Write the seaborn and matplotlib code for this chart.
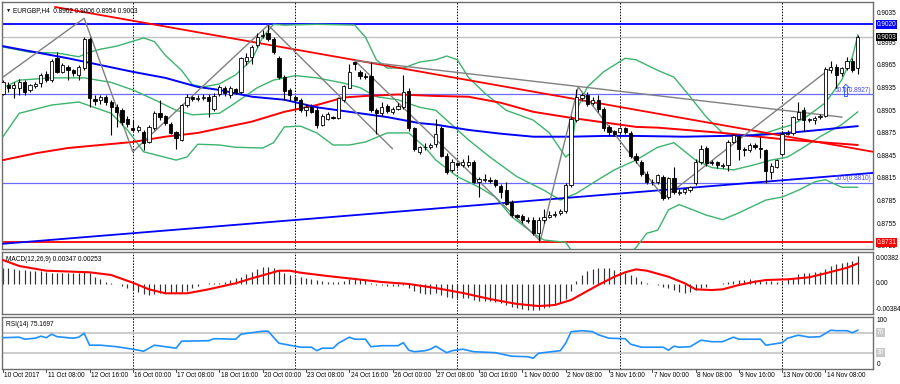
import numpy as np
import pandas as pd
import matplotlib
matplotlib.use("Agg")
import matplotlib.pyplot as plt
import seaborn as sns

# ---- candles EURGBP H4 ----
opens = [0.8928, 0.8940, 0.8936, 0.8936, 0.8944, 0.8933, 0.8938, 0.8942, 0.8954, 0.8946,
         0.8975, 0.8957, 0.8964, 0.8959, 0.8953, 0.8962, 0.9001, 0.8921, 0.8919, 0.8924,
         0.8917, 0.8911, 0.8906, 0.8895, 0.8882, 0.8880, 0.8877, 0.8864, 0.8883, 0.8902,
         0.8898, 0.8888, 0.8877, 0.8867, 0.8913, 0.8923, 0.8921, 0.8922, 0.8924, 0.8908,
         0.8928, 0.8935, 0.8926, 0.8934, 0.8930, 0.8972, 0.8977, 0.8992, 0.9004, 0.9008,
         0.9001, 0.8975, 0.8950, 0.8933, 0.8924, 0.8919, 0.8906, 0.8911, 0.8906, 0.8887,
         0.8895, 0.8897, 0.8896, 0.8920, 0.8936, 0.8970, 0.8957, 0.8952, 0.8951, 0.8906,
         0.8902, 0.8912, 0.8904, 0.8908, 0.8911, 0.8932, 0.8882, 0.8851, 0.8857, 0.8858,
         0.8861, 0.8882, 0.8846, 0.8827, 0.8836, 0.8834, 0.8833, 0.8838, 0.8811, 0.8814,
         0.8813, 0.8813, 0.8806, 0.8800, 0.8784, 0.8767, 0.8766, 0.8760, 0.8760, 0.8743,
         0.8760, 0.8765, 0.8767, 0.8770, 0.8773, 0.8807, 0.8893, 0.8922, 0.8926, 0.8916,
         0.8920, 0.8908, 0.8884, 0.8878, 0.8877, 0.8882, 0.8876, 0.8846, 0.8838, 0.8822,
         0.8811, 0.8811, 0.8818, 0.8791, 0.8816, 0.8797, 0.8798, 0.8800, 0.8809, 0.8838,
         0.8856, 0.8837, 0.8837, 0.8832, 0.8833, 0.8864, 0.8872, 0.8855, 0.8853, 0.8860,
         0.8856, 0.8853, 0.8824, 0.8831, 0.8848, 0.8875, 0.8876, 0.8895, 0.8906, 0.8893,
         0.8893, 0.8897, 0.8899, 0.8960, 0.8964, 0.8955, 0.8962, 0.8972, 0.8962]
highs = [0.8946, 0.8943, 0.8944, 0.8947, 0.8946, 0.8941, 0.8944, 0.8956, 0.8958, 0.8974,
         0.8983, 0.8969, 0.8966, 0.8961, 0.8966, 0.9003, 0.9003, 0.8926, 0.8926, 0.8926,
         0.8920, 0.8915, 0.8909, 0.8899, 0.8893, 0.8887, 0.8880, 0.8886, 0.8905, 0.8919,
         0.8900, 0.8890, 0.8879, 0.8915, 0.8927, 0.8925, 0.8926, 0.8928, 0.8927, 0.8929,
         0.8940, 0.8938, 0.8938, 0.8936, 0.8977, 0.8982, 0.8993, 0.9008, 0.9012, 0.9019,
         0.9003, 0.8978, 0.8953, 0.8935, 0.8926, 0.8922, 0.8914, 0.8914, 0.8912, 0.8901,
         0.8904, 0.8899, 0.8924, 0.8940, 0.8968, 0.8970, 0.8960, 0.8955, 0.8970, 0.8909,
         0.8917, 0.8915, 0.8911, 0.8916, 0.8953, 0.8935, 0.8884, 0.8859, 0.8862, 0.8863,
         0.8895, 0.8885, 0.8850, 0.8842, 0.8838, 0.8841, 0.8847, 0.8840, 0.8818, 0.8822,
         0.8817, 0.8815, 0.8808, 0.8811, 0.8787, 0.8769, 0.8768, 0.8764, 0.8764, 0.8764,
         0.8775, 0.8773, 0.8772, 0.8775, 0.8810, 0.8898, 0.8934, 0.8929, 0.8930, 0.8923,
         0.8926, 0.8910, 0.8887, 0.8880, 0.8884, 0.8884, 0.8878, 0.8849, 0.8840, 0.8825,
         0.8815, 0.8822, 0.8820, 0.8818, 0.8831, 0.8801, 0.8803, 0.8806, 0.8842, 0.8860,
         0.8859, 0.8840, 0.8839, 0.8836, 0.8866, 0.8875, 0.8875, 0.8858, 0.8863, 0.8863,
         0.8871, 0.8855, 0.8836, 0.8842, 0.8878, 0.8880, 0.8899, 0.8917, 0.8910, 0.8896,
         0.8898, 0.8901, 0.8963, 0.8971, 0.8967, 0.8964, 0.8977, 0.8975, 0.9006]
lows = [0.8926, 0.8930, 0.8922, 0.8926, 0.8926, 0.8930, 0.8936, 0.8937, 0.8944, 0.8944,
        0.8955, 0.8955, 0.8946, 0.8952, 0.8946, 0.8960, 0.8911, 0.8913, 0.8915, 0.8913,
        0.8873, 0.8884, 0.8887, 0.8884, 0.8878, 0.8877, 0.8853, 0.8862, 0.8880, 0.8893,
        0.8886, 0.8874, 0.8855, 0.8865, 0.8910, 0.8918, 0.8918, 0.8920, 0.8897, 0.8905,
        0.8925, 0.8925, 0.8922, 0.8928, 0.8928, 0.8966, 0.8967, 0.8990, 0.9002, 0.8998,
        0.8980, 0.8948, 0.8920, 0.8918, 0.8906, 0.8904, 0.8899, 0.8902, 0.8883, 0.8885,
        0.8893, 0.8894, 0.8894, 0.8917, 0.8935, 0.8960, 0.8948, 0.8948, 0.8904, 0.8875,
        0.8899, 0.8902, 0.8901, 0.8906, 0.8908, 0.8878, 0.8852, 0.8848, 0.8854, 0.8855,
        0.8858, 0.8844, 0.8821, 0.8824, 0.8830, 0.8831, 0.8831, 0.8809, 0.8791, 0.8811,
        0.8809, 0.8804, 0.8790, 0.8780, 0.8764, 0.8763, 0.8757, 0.8756, 0.8740, 0.8731,
        0.8757, 0.8763, 0.8765, 0.8767, 0.8770, 0.8804, 0.8890, 0.8918, 0.8912, 0.8913,
        0.8904, 0.8878, 0.8873, 0.8872, 0.8875, 0.8875, 0.8843, 0.8836, 0.8819, 0.8808,
        0.8807, 0.8808, 0.8787, 0.8788, 0.8795, 0.8794, 0.8795, 0.8798, 0.8807, 0.8835,
        0.8832, 0.8833, 0.8829, 0.8829, 0.8825, 0.8862, 0.8840, 0.8846, 0.8851, 0.8855,
        0.8843, 0.8810, 0.8815, 0.8829, 0.8846, 0.8873, 0.8873, 0.8893, 0.8878, 0.8891,
        0.8888, 0.8895, 0.8897, 0.8956, 0.8936, 0.8952, 0.8960, 0.8957, 0.8954]
closes = [0.8944, 0.8936, 0.8939, 0.8944, 0.8930, 0.8939, 0.8941, 0.8953, 0.8946, 0.8972,
          0.8957, 0.8966, 0.8960, 0.8955, 0.8964, 0.9001, 0.8922, 0.8918, 0.8923, 0.8917,
          0.8911, 0.8904, 0.8891, 0.8888, 0.8880, 0.8884, 0.8863, 0.8884, 0.8903, 0.8897,
          0.8889, 0.8876, 0.8869, 0.8913, 0.8924, 0.8921, 0.8922, 0.8924, 0.8918, 0.8925,
          0.8937, 0.8929, 0.8935, 0.8930, 0.8975, 0.8977, 0.8990, 0.9003, 0.9006, 0.9000,
          0.8983, 0.8950, 0.8931, 0.8926, 0.8919, 0.8906, 0.8910, 0.8904, 0.8886, 0.8899,
          0.8901, 0.8896, 0.8922, 0.8938, 0.8957, 0.8968, 0.8951, 0.8950, 0.8906, 0.8902,
          0.8911, 0.8905, 0.8908, 0.8912, 0.8930, 0.8882, 0.8855, 0.8857, 0.8858, 0.8860,
          0.8875, 0.8846, 0.8824, 0.8838, 0.8834, 0.8838, 0.8838, 0.8811, 0.8815, 0.8814,
          0.8812, 0.8807, 0.8798, 0.8782, 0.8767, 0.8765, 0.8760, 0.8759, 0.8743, 0.8760,
          0.8765, 0.8767, 0.8769, 0.8773, 0.8807, 0.8895, 0.8924, 0.8926, 0.8915, 0.8920,
          0.8908, 0.8882, 0.8877, 0.8875, 0.8882, 0.8877, 0.8846, 0.8840, 0.8822, 0.8811,
          0.8811, 0.8820, 0.8790, 0.8816, 0.8798, 0.8798, 0.8801, 0.8804, 0.8838, 0.8855,
          0.8836, 0.8836, 0.8833, 0.8834, 0.8864, 0.8873, 0.8855, 0.8854, 0.8860, 0.8858,
          0.8855, 0.8825, 0.8832, 0.8840, 0.8875, 0.8876, 0.8897, 0.8904, 0.8893, 0.8894,
          0.8896, 0.8899, 0.8961, 0.8964, 0.8953, 0.8962, 0.8972, 0.8960, 0.9003]

date_labels = ["10 Oct 2017", "11 Oct 08:00", "12 Oct 16:00", "16 Oct 00:00", "17 Oct 08:00",
               "18 Oct 16:00", "20 Oct 00:00", "23 Oct 08:00", "24 Oct 16:00", "26 Oct 00:00",
               "27 Oct 08:00", "30 Oct 16:00", "1 Nov 00:00", "2 Nov 08:00", "3 Nov 16:00",
               "7 Nov 00:00", "8 Nov 08:00", "9 Nov 16:00", "13 Nov 00:00", "14 Nov 08:00"]
week_starts = [24, 54, 84, 114, 144]

# ---- bandas de Bollinger (vertices) ----
bb_upper_bar = [0, 5, 10, 14, 16, 18, 21, 26, 28, 30, 33, 35, 37, 40, 43, 46, 48, 50, 52, 58,
                65, 67, 69, 71, 74, 77, 80, 82, 84, 86, 89, 93, 98, 101, 104, 105, 106, 108, 111, 115,
                117, 121, 124, 127, 130, 133, 136, 141, 144, 146, 149, 152, 155, 157, 158]
bb_upper = [0.8990, 0.8983, 0.8982, 0.8977, 0.8983, 0.8987, 0.8991, 0.9002, 0.8997, 0.8979,
            0.8959, 0.8940, 0.8937, 0.8941, 0.8953, 0.8973, 0.9003, 0.9020, 0.9019, 0.9020,
            0.9019, 0.9003, 0.8973, 0.8962, 0.8962, 0.8970, 0.8973, 0.8978, 0.8973, 0.8950,
            0.8929, 0.8906, 0.8893, 0.8876, 0.8844, 0.8850, 0.8906, 0.8937, 0.8957, 0.8975,
            0.8973, 0.8959, 0.8950, 0.8924, 0.8897, 0.8876, 0.8871, 0.8876, 0.8883, 0.8887,
            0.8900, 0.8916, 0.8946, 0.8977, 0.9006]
bb_mid_bar = [0, 3, 9, 15, 20, 24, 28, 32, 35, 40, 43, 47, 50, 54, 58, 63, 66, 69, 73, 77,
              80, 82, 86, 90, 95, 100, 103, 106, 110, 113, 117, 121, 124, 128, 131, 135, 139, 142, 145, 148,
              151, 155, 158]
bb_mid = [0.8936, 0.8946, 0.8949, 0.8949, 0.8943, 0.8933, 0.8920, 0.8906, 0.8900, 0.8902,
          0.8916, 0.8936, 0.8946, 0.8952, 0.8949, 0.8942, 0.8936, 0.8924, 0.8920, 0.8910,
          0.8906, 0.8893, 0.8867, 0.8844, 0.8818, 0.8800, 0.8787, 0.8796, 0.8814, 0.8827,
          0.8840, 0.8857, 0.8863, 0.8840, 0.8830, 0.8827, 0.8834, 0.8840, 0.8844, 0.8857,
          0.8871, 0.8887, 0.8904]
bb_low_bar = [0, 3, 9, 14, 20, 23, 26, 32, 34, 36, 40, 43, 48, 50, 52, 55, 58, 61, 64, 67,
              71, 75, 78, 80, 84, 88, 91, 94, 98, 100, 104, 107, 110, 113, 117, 119, 121, 123, 125, 130,
              133, 136, 141, 144, 147, 150, 152, 155, 158]
bb_low = [0.8871, 0.8902, 0.8913, 0.8917, 0.8902, 0.8880, 0.8851, 0.8840, 0.8844, 0.8861,
          0.8860, 0.8857, 0.8856, 0.8863, 0.8884, 0.8885, 0.8876, 0.8860, 0.8860, 0.8864,
          0.8876, 0.8876, 0.8857, 0.8840, 0.8818, 0.8804, 0.8791, 0.8765, 0.8743, 0.8734,
          0.8731, 0.8700, 0.8690, 0.8700, 0.8724, 0.8743, 0.8747, 0.8774, 0.8781, 0.8767,
          0.8761, 0.8770, 0.8787, 0.8791, 0.8800, 0.8811, 0.8814, 0.8804, 0.8804]

# ---- medias moveis ----
red_ma_bar = [0, 6, 12, 18, 24, 30, 36, 46, 52, 58, 63, 67, 73, 80, 86, 92, 98, 105, 111, 117,
              121, 133, 145, 158]
red_ma = [0.8840, 0.8849, 0.8856, 0.8860, 0.8864, 0.8871, 0.8876, 0.8891, 0.8904, 0.8913,
          0.8923, 0.8925, 0.8927, 0.8925, 0.8924, 0.8916, 0.8904, 0.8896, 0.8890, 0.8884,
          0.8883, 0.8876, 0.8867, 0.8860]
blue_ma_bar = [0, 6, 12, 18, 24, 30, 36, 40, 46, 52, 58, 64, 71, 77, 80, 86, 92, 98, 105, 111,
               117, 126, 133, 139, 145, 151, 155, 158]
blue_ma = [0.8991, 0.8983, 0.8975, 0.8966, 0.8957, 0.8949, 0.8937, 0.8933, 0.8924, 0.8920,
           0.8910, 0.8904, 0.8897, 0.8889, 0.8887, 0.8880, 0.8875, 0.8871, 0.8871, 0.8872,
           0.8872, 0.8871, 0.8872, 0.8873, 0.8876, 0.8880, 0.8883, 0.8885]

# ---- objetos desenhados ----
trend_red_bar = [9.6, 160.8]
trend_red = [0.9043, 0.8851]
trend_blue_bar = [0, 160.8]
trend_blue = [0.8729, 0.8823]
zigzag1_bar = [0, 15, 24, 49, 72]
zigzag1 = [0.8950, 0.9028, 0.8851, 0.9019, 0.8855]
zigzag2_bar = [65, 99.3, 106.3, 122.2, 153]
zigzag2 = [0.8972, 0.8733, 0.8937, 0.8790, 0.8962]
channel_bar = [65, 155.1]
channel = [0.8972, 0.8897]
level_top = 0.9020
level_bid = 0.9003
fib_hi = 0.8927
fib_lo = 0.8810
level_low = 0.8731
price_ticks = [0.9035, 0.8995, 0.8965, 0.8935, 0.8905, 0.8875, 0.8845, 0.8815, 0.8785, 0.8755, 0.8725]

# ---- MACD ----
macd_hist = [0.00191, 0.00191, 0.00178, 0.00170, 0.00170, 0.00161, 0.00157, 0.00157, 0.00149, 0.00136,
             0.00136, 0.00136, 0.00136, 0.00136, 0.00136, 0.00149, 0.00128, 0.00086, 0.00052, 0.00023,
             0.00002, -0.00010, -0.00031, -0.00061, -0.00082, -0.00103, -0.00132, -0.00145, -0.00136, -0.00124,
             -0.00115, -0.00115, -0.00115, -0.00107, -0.00090, -0.00061, -0.00031, -0.00010, 0.00002, 0.00010,
             0.00010, 0.00023, 0.00044, 0.00065, 0.00086, 0.00115, 0.00149, 0.00178, 0.00212, 0.00212,
             0.00191, 0.00170, 0.00136, 0.00107, 0.00086, 0.00080, 0.00070, 0.00060, 0.00040, 0.00030,
             0.00025, 0.00015, 0.00020, 0.00035, 0.00055, 0.00065, 0.00060, 0.00050, 0.00010, -0.00015,
             -0.00020, -0.00030, -0.00035, -0.00035, -0.00020, -0.00060, -0.00100, -0.00120, -0.00130, -0.00135,
             -0.00125, -0.00140, -0.00170, -0.00180, -0.00185, -0.00185, -0.00185, -0.00205, -0.00215, -0.00220,
             -0.00225, -0.00232, -0.00245, -0.00265, -0.00290, -0.00305, -0.00320, -0.00330, -0.00335, -0.00330,
             -0.00310, -0.00290, -0.00270, -0.00250, -0.00200, -0.00090, 0.00030, 0.00110, 0.00160, 0.00185,
             0.00195, 0.00191, 0.00191, 0.00170, 0.00136, 0.00128, 0.00107, 0.00086, 0.00036, 0.00002,
             -0.00002, -0.00019, -0.00040, -0.00061, -0.00082, -0.00103, -0.00115, -0.00103, -0.00082, -0.00061,
             -0.00040, -0.00010, -0.00002, 0.00010, 0.00023, 0.00031, 0.00044, 0.00044, 0.00052, 0.00044,
             0.00044, 0.00036, 0.00036, 0.00023, 0.00023, 0.00052, 0.00065, 0.00119, 0.00128, 0.00136,
             0.00140, 0.00140, 0.00178, 0.00220, 0.00241, 0.00262, 0.00274, 0.00287, 0.00347]
signal_bar = [0, 3, 8, 16, 20, 24, 27, 30, 34, 38, 43, 46, 51, 53, 55, 60, 65, 70, 75, 80,
              85, 90, 95, 99, 102, 105, 108, 110, 113, 115, 117, 119, 123, 126, 128, 131, 133, 136, 139, 141,
              145, 149, 152, 156, 158]
signal = [0.00295, 0.00220, 0.00161, 0.00141, 0.00107, 0.00010, -0.00073, -0.00123, -0.00123, -0.00073,
          0.00003, 0.00065, 0.00161, 0.00161, 0.00136, 0.00094, 0.00057, 0.00019, -0.00006, -0.00057,
          -0.00119, -0.00195, -0.00257, -0.00283, -0.00270, -0.00207, -0.00094, -0.00019, 0.00085, 0.00141,
          0.00178, 0.00161, 0.00085, 0.00003, -0.00073, -0.00082, -0.00073, -0.00019, 0.00023, 0.00044,
          0.00053, 0.00078, 0.00128, 0.00198, 0.00253]

# ---- RSI(14) ----
rsi_bar = [0, 3, 4, 6, 7, 8, 9, 10, 13, 14, 15, 16, 18, 21, 24, 26, 28, 32, 33, 38,
           39, 43, 44, 48, 49, 51, 55, 57, 58, 59, 61, 62, 64, 65, 67, 68, 70, 73, 74, 75,
           76, 78, 79, 80, 82, 83, 85, 87, 91, 94, 97, 98, 99, 103, 104, 105, 107, 109, 110, 112,
           115, 116, 118, 122, 123, 124, 125, 127, 129, 131, 133, 135, 136, 140, 141, 144, 145, 147, 149, 151,
           153, 154, 156, 157, 158]
rsi = [60, 61, 57, 59, 63, 60, 67, 62, 59, 61, 69, 45, 45, 42, 37, 33, 45, 39, 53, 54,
       58, 57, 67, 73, 73, 49, 41, 41, 34, 39, 39, 49, 61, 57, 57, 42, 44, 44, 50, 35,
       32, 34, 37, 43, 30, 34, 37, 32, 30, 23, 22, 19, 29, 34, 49, 72, 74, 72, 66, 59,
       58, 47, 41, 41, 35, 43, 41, 42, 55, 52, 52, 61, 57, 57, 45, 50, 59, 65, 61, 62,
       75, 74, 74, 70, 75.17]

# ---- estilo ----
sns.set_theme(style="white")
plt.rcParams['font.family'] = ['Liberation Sans', 'DejaVu Sans']
FS = 4.7
GREEN = "#3cb46e"
TXT = "black"

fig = plt.figure(figsize=(9, 3.84), dpi=100)
ax = fig.add_axes([2/900, 135/384, 871/900, 247/384])
ax_macd = fig.add_axes([2/900, 70/384, 871/900, 62/384])
ax_rsi = fig.add_axes([2/900, 15/384, 871/900, 52/384])

df = pd.DataFrame({"o": opens, "h": highs, "l": lows, "c": closes})
df["bar"] = np.arange(len(df))
XMAX = 160.8

for a in (ax, ax_macd, ax_rsi):
    a.set_xlim(-0.18, XMAX)
    a.set_xticks([])
    a.set_yticks([])
    for s in a.spines.values():
        s.set_color("#6e6e6e")
        s.set_linewidth(1.0)
    for w in week_starts:
        a.axvline(w, color="black", ls=(0, (1.5, 1.5)), lw=0.7, zorder=1)

ax.set_ylim(0.87221, 0.90496)
ax_macd.set_ylim(-0.00383, 0.00396)
ax_rsi.set_ylim(-2.6, 101.4)

# niveis horizontais
ax.axhline(level_bid, color="#c0c0c0", lw=1.0, zorder=1)
ax.axhline(level_top, color="#0000ff", lw=1.3, zorder=2)
ax.axhline(fib_hi, color="#6a6aff", lw=0.9, zorder=2)
ax.axhline(fib_lo, color="#6a6aff", lw=0.9, zorder=2)
ax.axhline(level_low, color="#ff0000", lw=1.3, zorder=2)

# bollinger
for bx, by in ((bb_upper_bar, bb_upper), (bb_mid_bar, bb_mid), (bb_low_bar, bb_low)):
    sns.lineplot(x=bx, y=by, ax=ax, color=GREEN, lw=1.0, zorder=3)

# medias
sns.lineplot(x=red_ma_bar, y=red_ma, ax=ax, color="#ff0000", lw=1.4, zorder=3)
sns.lineplot(x=blue_ma_bar, y=blue_ma, ax=ax, color="#0000ff", lw=1.4, zorder=3)

# linhas de tendencia e zigzag
sns.lineplot(x=trend_red_bar, y=trend_red, ax=ax, color="#ff0000", lw=1.3, zorder=3)
sns.lineplot(x=trend_blue_bar, y=trend_blue, ax=ax, color="#0000ff", lw=1.3, zorder=3)
for bx, by in ((zigzag1_bar, zigzag1), (zigzag2_bar, zigzag2), (channel_bar, channel)):
    sns.lineplot(x=bx, y=by, ax=ax, color="#808080", lw=1.0, zorder=3, sort=False)

# candles
up = df["c"] >= df["o"]
ax.vlines(df["bar"], df["l"], df["h"], color="black", lw=0.8, zorder=4)
body = (df["c"] - df["o"]).abs().clip(lower=0.00004)
ax.bar(df["bar"], body, bottom=df[["o", "c"]].min(axis=1), width=0.6,
       color=np.where(up, "white", "black"), edgecolor="black", lw=0.6, zorder=5)

# textos painel principal
ax.text(0.004, 0.977, "\u25bc", transform=ax.transAxes, fontsize=FS - 1, va="top", color=TXT)
ax.text(0.013, 0.978, "EURGBP,H4  0.8962 0.9006 0.8954 0.9003", transform=ax.transAxes,
        fontsize=FS, va="top", color=TXT)
ax.text(XMAX - 0.3, fib_lo + 0.00005, "50.0(0.8810)", fontsize=FS, color="#4646ff", ha="right", va="bottom")
ax.text(XMAX - 0.3, fib_hi + 0.00005, "50.0(0.8927)", fontsize=FS, color="#4646ff", ha="right", va="bottom")
ax.text(155.6, 0.8930, "\u21e7", fontsize=12, color="#1e50ff", ha="center", va="center",
        family="DejaVu Sans", zorder=6)

# eixo de precos a direita
ty = ax.get_yaxis_transform()
for p in price_ticks:
    ax.text(1.004, p, f"{p:.4f}", transform=ty, fontsize=FS, va="center", ha="left", color=TXT, zorder=1)
for p, fc in ((level_top, "#0000ff"), (level_bid, "black"), (level_low, "#ff0000")):
    ax.text(1.004, p, f"{p:.4f}", transform=ty, fontsize=FS, va="center", ha="left", color="white",
            bbox=dict(boxstyle="square,pad=0.12", fc=fc, ec="none"), zorder=8)

# MACD
ax_macd.vlines(np.arange(len(macd_hist)), 0, macd_hist, color="#333333", lw=0.85, zorder=2)
sns.lineplot(x=signal_bar, y=signal, ax=ax_macd, color="#ff0000", lw=1.5, zorder=3)
ax_macd.text(0.005, 0.93, "MACD(12,26,9) 0.00347 0.00253", transform=ax_macd.transAxes,
             fontsize=FS, va="top", color=TXT)
for fy, s in ((0.90, "0.00382"), (0.484, "0.00"), (0.08, "-0.00384")):
    ax_macd.text(1.003, fy, s, transform=ax_macd.transAxes, fontsize=FS, va="center", ha="left", color=TXT)

# RSI
ax_rsi.axhline(70, color="#c8c8c8", lw=1.3, zorder=1)
ax_rsi.axhline(30, color="#c8c8c8", lw=1.3, zorder=1)
sns.lineplot(x=rsi_bar, y=rsi, ax=ax_rsi, color="#1e90ff", lw=1.2, zorder=3)
ax_rsi.text(0.005, 0.93, "RSI(14) 75.1697", transform=ax_rsi.transAxes,
            fontsize=FS, va="top", color=TXT)
for fy, s in ((0.93, "100"), (0.08, "0")):
    ax_rsi.text(1.004, fy, s, transform=ax_rsi.transAxes, fontsize=FS, va="center", ha="left", color=TXT)
tr = ax_rsi.get_yaxis_transform()
for v in (70, 30):
    ax_rsi.text(1.004, v, str(v), transform=tr, fontsize=FS, va="center", ha="left", color="white",
                bbox=dict(boxstyle="square,pad=0.12", fc="#c8c8c8", ec="none"))

# datas
tx = ax_rsi.get_xaxis_transform()
for k, lab in enumerate(date_labels):
    b = k * 8
    ax_rsi.plot([b, b], [0, -0.06], transform=tx, color="#444444", lw=0.7, clip_on=False)
    ax_rsi.text(b + 0.25, -0.13, lab, transform=tx, fontsize=FS, va="center", ha="left", color=TXT)

for a in (ax, ax_macd, ax_rsi):
    a.set_xlabel("")
    a.set_ylabel("")
    leg = a.get_legend()
    if leg:
        leg.remove()

fig.savefig("out.png", dpi=100)
